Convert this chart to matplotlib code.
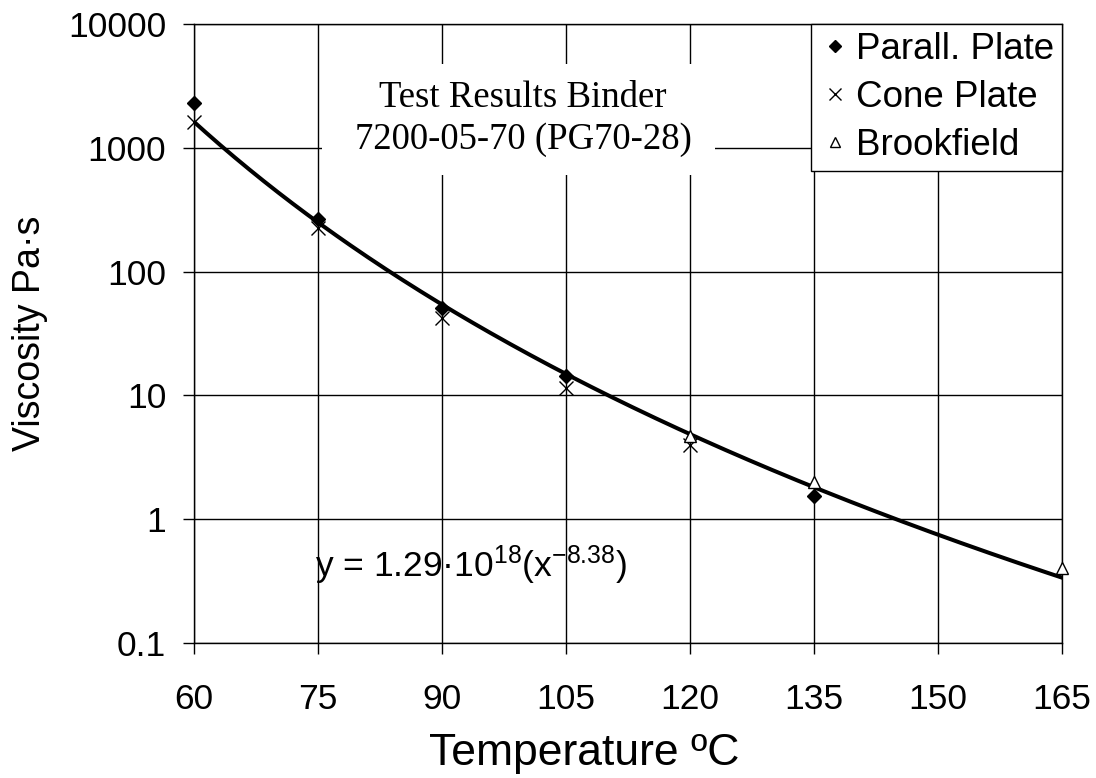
import numpy as np
import matplotlib
matplotlib.use('Agg')
import matplotlib.pyplot as plt
from matplotlib.patches import Rectangle
from matplotlib.ticker import FixedLocator, NullLocator

plt.rcParams['font.family'] = ['Liberation Sans', 'DejaVu Sans']
plt.rcParams['mathtext.default'] = 'regular'

# measured viscosities (Pa·s) by test method
temp_pp = [60, 75, 90, 105, 135]
visc_pp = [2300, 265, 51, 14.3, 1.55]
temp_cp = [60, 75, 90, 105, 120]
visc_cp = [1620, 225, 42.5, 11.5, 4.0]
temp_bf = [120, 135, 165]
visc_bf = [4.7, 2.0, 0.40]

# power-law fit y = a * x^b
fit_a = 1.29e18
fit_b = -8.38

x_ticks = [60, 75, 90, 105, 120, 135, 150, 165]
y_ticks = [0.1, 1, 10, 100, 1000, 10000]
y_labels = ['0.1', '1', '10', '100', '1000', '10000']

fig = plt.figure(figsize=(10.96, 7.78), dpi=100)
ax = fig.add_axes([0.177, 0.1735, 0.792, 0.7957])

ax.set_xlim(60, 165)
ax.set_yscale('log')
ax.set_ylim(0.1, 10000)
ax.xaxis.set_major_locator(FixedLocator(x_ticks))
ax.yaxis.set_major_locator(FixedLocator(y_ticks))
ax.yaxis.set_minor_locator(NullLocator())
ax.set_yticklabels(y_labels)
ax.tick_params(axis='both', direction='out', length=8, width=1, labelsize=25.5)
ax.tick_params(axis='x', pad=21)
ax.tick_params(axis='y', pad=12)
ax.grid(True, color='black', linewidth=1.0)
ax.set_axisbelow(True)
for s in ax.spines.values():
    s.set_linewidth(1.0)

# white box behind the title text
ax.add_patch(Rectangle((0.1475, 0.756), 0.4525, 0.179, transform=ax.transAxes,
                       facecolor='white', edgecolor='none', zorder=1.5))
ax.text(0.379, 0.8465, 'Test Results Binder\n7200-05-70 (PG70-28)',
        transform=ax.transAxes, ha='center', va='center', fontsize=26.5,
        family='Liberation Serif', linespacing=1.28, zorder=2)

xs = np.linspace(60, 165, 300)
ax.plot(xs, fit_a * xs ** fit_b, color='black', linewidth=2.9, zorder=3)

ax.plot(temp_pp, visc_pp, linestyle='none', marker='D', ms=7, color='black',
        label='Parall. Plate', clip_on=False, zorder=4)
ax.plot(temp_cp, visc_cp, linestyle='none', marker='x', ms=10, mew=1.0, color='black',
        label='Cone Plate', clip_on=False, zorder=4)
ax.plot(temp_bf, visc_bf, linestyle='none', marker='^', ms=9, mew=1.0,
        markerfacecolor='white', markeredgecolor='black',
        label='Brookfield', clip_on=False, zorder=4)

ax.text(0.139, 0.125, 'y = 1.29·10$^{18}$(x$^{-8.38}$)', transform=ax.transAxes,
        ha='left', va='center', fontsize=25.5, zorder=2)

leg = ax.legend(loc='upper right', fontsize=26.5, frameon=True, fancybox=False,
                framealpha=1, edgecolor='black', borderaxespad=0, borderpad=0.22,
                labelspacing=0.35, handlelength=0.85, handletextpad=0.15, markerscale=0.85)
leg.get_frame().set_linewidth(1.0)

ax.set_xlabel('Temperature ºC', fontsize=32)
ax.xaxis.set_label_coords(0.449, -0.145)
ax.set_ylabel('Viscosity Pa·s', fontsize=27)
ax.yaxis.set_label_coords(-0.168, 0.5)

fig.savefig('out.png', dpi=100)
